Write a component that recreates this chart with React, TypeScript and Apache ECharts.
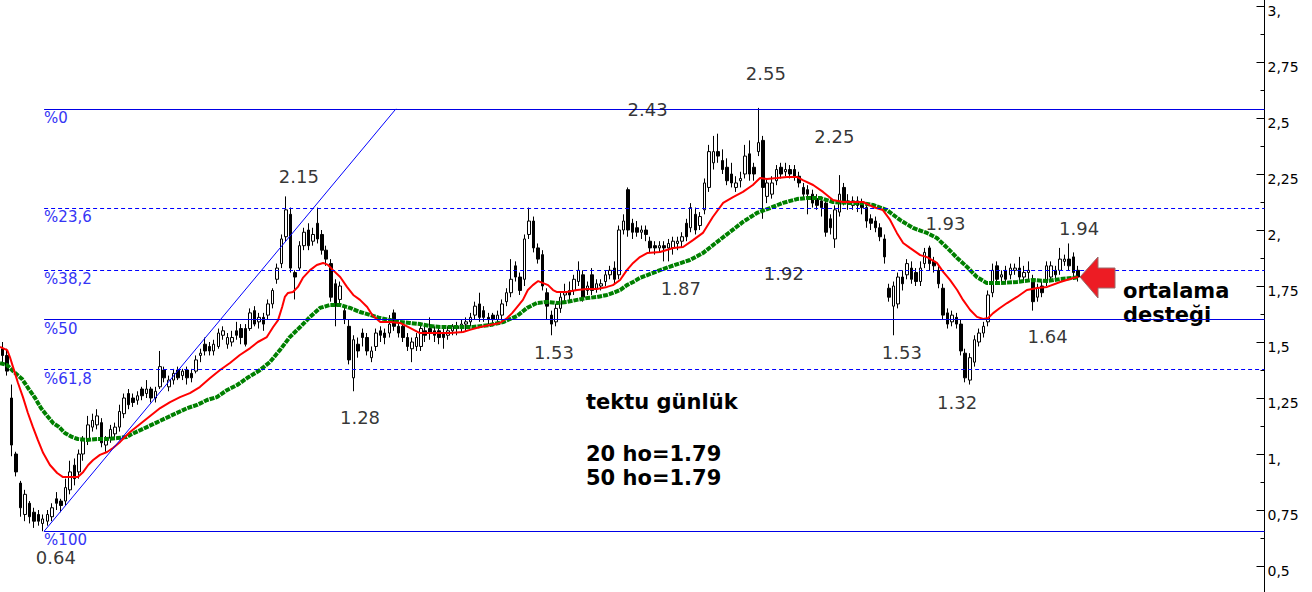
import React, { useEffect, useRef } from "react";
import * as echarts from "echarts";

// ---- data (open, close, low, high) per daily bar ----
const ohlc: number[][] = [
  [1.47,1.44,1.40,1.50],[1.44,1.37,1.35,1.47],[1.25,1.04,0.99,1.31],[1.00,0.92,0.90,1.01],[0.87,0.76,0.72,0.88],
  [0.73,0.82,0.70,0.84],[0.78,0.72,0.69,0.79],[0.74,0.70,0.67,0.76],[0.73,0.70,0.68,0.75],[0.69,0.71,0.655,0.73],
  [0.70,0.73,0.68,0.75],[0.72,0.76,0.70,0.78],[0.80,0.78,0.75,0.83],[0.79,0.77,0.74,0.80],[0.79,0.85,0.77,0.89],
  [0.84,0.92,0.82,0.97],[0.95,0.89,0.86,0.98],[0.92,1.00,0.89,1.02],[1.00,1.06,0.97,1.08],[1.06,1.13,1.04,1.17],
  [1.12,1.15,1.10,1.18],[1.13,1.17,1.11,1.20],[1.14,1.05,1.03,1.16],[1.04,1.06,1.01,1.08],[1.07,1.11,1.05,1.13],
  [1.09,1.12,1.07,1.14],[1.12,1.19,1.10,1.22],[1.18,1.25,1.16,1.27],[1.27,1.22,1.20,1.29],[1.25,1.23,1.21,1.27],
  [1.24,1.26,1.22,1.28],[1.29,1.26,1.24,1.30],[1.27,1.29,1.25,1.33],[1.29,1.25,1.23,1.30],[1.25,1.28,1.23,1.30],
  [1.30,1.39,1.29,1.46],[1.375,1.34,1.32,1.39],[1.30,1.33,1.28,1.35],[1.33,1.36,1.31,1.38],[1.375,1.34,1.33,1.39],
  [1.35,1.37,1.33,1.38],[1.375,1.34,1.31,1.39],[1.36,1.34,1.32,1.38],[1.37,1.42,1.36,1.44],[1.44,1.45,1.41,1.47],
  [1.49,1.46,1.44,1.52],[1.48,1.46,1.44,1.50],[1.46,1.49,1.44,1.51],[1.48,1.54,1.47,1.56],[1.53,1.55,1.51,1.57],
  [1.49,1.52,1.47,1.54],[1.50,1.52,1.48,1.55],[1.55,1.53,1.51,1.59],[1.56,1.52,1.49,1.58],[1.56,1.49,1.48,1.58],
  [1.56,1.63,1.55,1.65],[1.64,1.58,1.57,1.66],[1.59,1.61,1.56,1.63],[1.61,1.58,1.55,1.63],[1.62,1.67,1.60,1.69],
  [1.67,1.73,1.65,1.74],[1.78,1.83,1.76,1.85],[1.85,1.96,1.83,1.98],[1.97,2.09,1.95,2.15],[2.07,1.83,1.81,2.10],
  [1.81,1.79,1.69,1.82],[1.83,1.93,1.82,1.95],[1.93,1.99,1.91,2.01],[2.00,1.93,1.91,2.03],[1.95,1.98,1.93,2.01],
  [2.03,1.96,1.94,2.10],[1.98,1.91,1.89,2.00],[1.91,1.87,1.84,1.93],[1.85,1.70,1.68,1.87],[1.76,1.66,1.57,1.78],
  [1.69,1.75,1.66,1.77],[1.64,1.60,1.58,1.66],[1.57,1.42,1.40,1.60],[1.34,1.51,1.28,1.53],[1.49,1.46,1.43,1.52],
  [1.54,1.52,1.48,1.56],[1.52,1.46,1.44,1.54],[1.43,1.46,1.41,1.48],[1.48,1.54,1.46,1.56],[1.55,1.53,1.50,1.57],
  [1.54,1.52,1.49,1.56],[1.54,1.58,1.52,1.62],[1.63,1.57,1.55,1.645],[1.57,1.54,1.52,1.59],[1.57,1.52,1.50,1.58],
  [1.52,1.48,1.46,1.54],[1.47,1.50,1.41,1.52],[1.48,1.52,1.46,1.54],[1.48,1.56,1.46,1.58],[1.55,1.53,1.50,1.57],
  [1.56,1.54,1.51,1.61],[1.55,1.53,1.50,1.57],[1.55,1.52,1.49,1.57],[1.54,1.52,1.47,1.56],[1.53,1.55,1.51,1.57],
  [1.55,1.57,1.53,1.58],[1.57,1.56,1.53,1.59],[1.56,1.58,1.54,1.60],[1.58,1.59,1.55,1.61],[1.59,1.61,1.57,1.63],
  [1.62,1.66,1.60,1.68],[1.67,1.61,1.59,1.72],[1.64,1.61,1.59,1.66],[1.61,1.60,1.58,1.63],[1.62,1.60,1.57,1.63],
  [1.60,1.62,1.58,1.64],[1.62,1.67,1.60,1.69],[1.68,1.72,1.66,1.74],[1.72,1.78,1.70,1.87],[1.84,1.79,1.77,1.86],
  [1.79,1.73,1.71,1.81],[1.78,1.96,1.75,1.98],[1.98,2.04,1.96,2.10],[2.04,1.92,1.90,2.06],[1.92,1.87,1.85,1.94],
  [1.89,1.75,1.73,1.91],[1.72,1.66,1.60,1.74],[1.62,1.58,1.53,1.64],[1.59,1.65,1.57,1.67],[1.65,1.70,1.63,1.72],
  [1.71,1.72,1.68,1.76],[1.73,1.71,1.68,1.77],[1.73,1.78,1.71,1.80],[1.77,1.82,1.75,1.86],[1.80,1.70,1.68,1.82],
  [1.73,1.75,1.71,1.77],[1.80,1.73,1.71,1.83],[1.74,1.76,1.72,1.78],[1.75,1.76,1.73,1.78],[1.77,1.80,1.75,1.82],
  [1.80,1.82,1.78,1.84],[1.83,1.78,1.76,1.86],[1.80,2.00,1.78,2.02],[2.00,2.04,1.98,2.07],[2.18,2.00,1.97,2.19],
  [2.03,1.99,1.96,2.05],[2.01,1.99,1.97,2.04],[1.99,2.00,1.96,2.02],[2.00,1.98,1.95,2.02],[1.95,1.92,1.90,1.97],
  [1.93,1.92,1.89,1.95],[1.92,1.93,1.90,1.95],[1.93,1.92,1.86,1.95],[1.92,1.94,1.86,1.96],[1.92,1.95,1.89,1.97],
  [1.94,1.95,1.91,1.97],[1.95,1.97,1.92,1.99],[2.03,1.97,1.95,2.05],[2.01,2.10,1.99,2.12],[2.07,2.00,1.98,2.10],
  [2.02,2.06,2.00,2.08],[2.09,2.21,2.07,2.23],[2.19,2.35,2.17,2.38],[2.30,2.35,2.27,2.42],[2.35,2.33,2.30,2.43],
  [2.31,2.27,2.25,2.36],[2.28,2.22,2.20,2.32],[2.25,2.21,2.19,2.30],[2.19,2.21,2.17,2.24],[2.22,2.23,2.19,2.26],
  [2.25,2.33,2.23,2.38],[2.34,2.25,2.22,2.40],[2.28,2.25,2.22,2.30],[2.35,2.39,2.33,2.545],[2.40,2.19,2.05,2.42],
  [2.15,2.21,2.12,2.23],[2.16,2.21,2.14,2.24],[2.22,2.27,2.20,2.29],[2.28,2.25,2.23,2.30],[2.26,2.27,2.24,2.30],
  [2.27,2.25,2.23,2.29],[2.27,2.24,2.22,2.29],[2.24,2.21,2.19,2.26],[2.19,2.16,2.14,2.21],[2.18,2.16,2.07,2.20],
  [2.16,2.12,2.10,2.18],[2.14,2.11,2.09,2.16],[2.13,2.10,2.06,2.15],[2.12,1.99,1.97,2.14],[2.05,2.01,1.98,2.07],
  [1.96,2.09,1.92,2.11],[2.08,2.16,2.06,2.245],[2.19,2.13,2.11,2.21],[2.13,2.12,2.09,2.16],[2.11,2.13,2.09,2.15],
  [2.13,2.11,2.08,2.15],[2.12,2.10,2.07,2.14],[2.10,2.04,2.01,2.12],[2.05,2.03,2.00,2.07],[2.04,2.01,1.99,2.06],
  [2.01,1.97,1.95,2.03],[1.96,1.88,1.85,1.98],[1.74,1.70,1.68,1.76],[1.66,1.75,1.53,1.77],[1.67,1.79,1.65,1.81],
  [1.79,1.76,1.73,1.82],[1.80,1.85,1.78,1.87],[1.83,1.78,1.76,1.86],[1.81,1.77,1.75,1.83],[1.77,1.83,1.75,1.86],
  [1.85,1.90,1.83,1.92],[1.92,1.85,1.82,1.93],[1.86,1.84,1.81,1.88],[1.82,1.76,1.74,1.84],[1.74,1.62,1.60,1.76],
  [1.63,1.58,1.56,1.65],[1.59,1.62,1.57,1.64],[1.61,1.58,1.56,1.63],[1.58,1.46,1.44,1.60],[1.45,1.34,1.32,1.47],
  [1.33,1.43,1.31,1.45],[1.41,1.51,1.39,1.53],[1.50,1.54,1.48,1.56],[1.54,1.57,1.52,1.59],[1.59,1.71,1.57,1.73],
  [1.72,1.82,1.70,1.85],[1.84,1.78,1.76,1.86],[1.79,1.80,1.77,1.82],[1.82,1.78,1.76,1.84],[1.80,1.83,1.78,1.85],
  [1.82,1.83,1.80,1.85],[1.83,1.79,1.77,1.88],[1.79,1.81,1.77,1.84],[1.81,1.82,1.78,1.86],[1.78,1.68,1.64,1.80],
  [1.70,1.74,1.68,1.76],[1.75,1.72,1.70,1.77],[1.77,1.84,1.75,1.86],[1.79,1.84,1.77,1.86],[1.82,1.80,1.78,1.84],
  [1.82,1.87,1.80,1.92],[1.86,1.87,1.84,1.89],[1.87,1.84,1.82,1.94],[1.88,1.81,1.79,1.90],[1.82,1.79,1.77,1.84],
];

// 20-day average [bar index, value]
const ma20: number[][] = [
  [-0.5,1.478],[1.1,1.464],[1.7,1.433],[2.4,1.388],[3.5,1.317],[4.6,1.254],[5.7,1.183],[6.8,1.121],[7.9,1.063],
  [9.1,1.004],[10.6,0.951],[12.2,0.915],[13.5,0.897],[15.5,0.897],[16.8,0.897],[18.0,0.920],[19.1,0.951],[20.2,0.973],
  [21.7,0.996],[23.3,1.009],[24.6,1.027],[26.2,1.054],[27.7,1.085],[28.4,1.098],[35.1,1.205],[37.3,1.232],[39.5,1.254],
  [41.7,1.272],[43.9,1.299],[46.2,1.339],[48.4,1.375],[50.6,1.406],[52.8,1.442],[55.1,1.473],[56.8,1.500],[58.8,1.522],
  [60.2,1.567],[61.3,1.598],[62.2,1.656],[62.8,1.701],[63.5,1.719],[64.6,1.723],[65.7,1.746],[66.8,1.786],[68.4,1.821],
  [69.9,1.844],[71.3,1.853],[72.4,1.844],[73.5,1.821],[75.1,1.790],[76.6,1.746],[78.0,1.710],[79.5,1.688],[81.1,1.656],
  [82.2,1.621],[84.0,1.589],[86.2,1.589],[88.4,1.585],[90.6,1.563],[92.8,1.540],[95.1,1.540],[99.5,1.540],[102.4,1.545],
  [103.9,1.554],[106.2,1.567],[108.4,1.576],[110.6,1.585],[112.2,1.607],[113.3,1.629],[114.4,1.656],[115.7,1.688],
  [116.8,1.732],[117.9,1.754],[119.1,1.772],[120.2,1.763],[121.3,1.754],[122.4,1.732],[123.3,1.723],[125.5,1.723],
  [127.7,1.732],[129.9,1.737],[132.2,1.737],[134.4,1.746],[135.7,1.754],[137.3,1.777],[138.8,1.821],[140.2,1.853],
  [141.7,1.879],[143.3,1.897],[146.2,1.902],[149.1,1.920],[151.3,1.924],[153.5,1.955],[155.7,1.987],[157.9,2.058],
  [160.2,2.121],[162.4,2.147],[164.6,2.170],[166.8,2.201],[168.4,2.232],[169.9,2.228],[172.2,2.232],[174.4,2.237],
  [176.6,2.237],[177.9,2.223],[180.2,2.201],[182.4,2.170],[184.6,2.134],[186.8,2.125],[189.1,2.125],[191.3,2.125],
  [193.5,2.103],[195.7,2.089],[197.3,2.045],[198.8,1.987],[200.2,1.942],[201.7,1.920],[204.0,1.888],[205.5,1.879],
  [207.7,1.853],[209.1,1.813],[210.6,1.777],[212.2,1.732],[213.5,1.688],[215.1,1.643],[216.6,1.612],[218.0,1.603],
  [219.1,1.607],[220.2,1.629],[221.7,1.652],[223.3,1.674],[225.5,1.701],[227.7,1.732],[230.0,1.741],[232.2,1.746],
  [235.1,1.768],[238.0,1.786],[239.1,1.790],
];

// 50-day average [bar index, value]
const ma50: number[][] = [
  [-0.5,1.406],[1.1,1.397],[2.6,1.366],[4.4,1.335],[5.9,1.290],[7.3,1.250],[8.6,1.205],[10.2,1.165],[11.3,1.138],
  [12.6,1.121],[13.9,1.094],[15.5,1.076],[16.8,1.067],[18.8,1.063],[21.1,1.067],[23.3,1.067],[25.5,1.071],[27.7,1.076],
  [28.4,1.085],[41.1,1.205],[43.3,1.219],[45.5,1.241],[47.7,1.254],[50.0,1.286],[52.2,1.308],[54.4,1.339],[56.6,1.366],
  [57.3,1.375],[59.5,1.411],[61.7,1.464],[63.9,1.522],[66.2,1.567],[68.4,1.612],[70.6,1.652],[72.8,1.665],[75.1,1.665],
  [77.3,1.652],[79.5,1.634],[81.7,1.621],[83.9,1.607],[86.2,1.598],[88.4,1.589],[90.6,1.585],[92.8,1.580],[95.1,1.571],
  [97.3,1.567],[101.7,1.567],[104.6,1.567],[108.4,1.576],[111.3,1.589],[114.4,1.616],[116.6,1.652],[118.8,1.674],
  [121.1,1.679],[123.3,1.674],[125.5,1.679],[127.7,1.688],[129.9,1.696],[132.2,1.701],[134.4,1.710],[135.7,1.719],
  [137.3,1.732],[138.8,1.754],[140.2,1.768],[141.7,1.786],[146.2,1.821],[149.5,1.844],[152.8,1.866],[155.7,1.897],
  [158.8,1.946],[161.7,1.991],[164.6,2.036],[167.7,2.076],[170.6,2.098],[173.5,2.121],[176.6,2.138],[178.8,2.143],
  [181.7,2.143],[184.6,2.125],[187.7,2.121],[190.6,2.121],[193.5,2.112],[196.6,2.089],[199.5,2.045],[202.4,2.009],
  [205.5,1.987],[207.7,1.964],[210.0,1.920],[212.2,1.875],[214.4,1.835],[216.6,1.790],[218.8,1.763],[221.7,1.763],
  [225.5,1.768],[229.1,1.777],[232.2,1.772],[235.1,1.781],[238.0,1.786],[239.1,1.790],
];

// Fibonacci retracement (from the 0.655 low to the 2.545 high)
const fibLabels = ["%0", "%23,6", "%38,2", "%50", "%61,8", "%100"];
const fibValues = [2.541, 2.097, 1.822, 1.600, 1.377, 0.655];
const fibDashed = [false, true, true, false, true, false];
const fibStartIndex = 9.3;
const trendLine = [[9.3, 0.655], [87.5, 2.541]];

// price call-outs [text, bar index, value]
const priceNotes: [string, number, number][] = [
  ["2.15", 65.9, 2.241], ["2.43", 143.4, 2.540], ["2.55", 169.7, 2.699], ["2.25", 184.9, 2.417],
  ["1.93", 209.6, 2.029], ["1.94", 239.3, 2.007], ["1.92", 173.7, 1.808], ["1.87", 150.8, 1.737],
  ["1.53", 122.6, 1.451], ["1.28", 79.5, 1.165], ["1.53", 199.9, 1.453], ["1.32", 212.2, 1.232],
  ["1.64", 232.3, 1.525], ["0.64", 11.9, 0.540],
];

// y axis tick labels
const tickValues = [0.5, 0.75, 1, 1.25, 1.5, 1.75, 2, 2.25, 2.5, 2.75, 3];
const tickLabels = ["0,5", "0,75", "1,", "1,25", "1,5", "1,75", "2,", "2,25", "2,5", "2,75", "3,"];

const slotCount = 281;

const infoLines = ["tektu günlük", "20 ho=1.79", "50 ho=1.79"];
const supportLines = ["ortalama", "desteği"];

// the chart canvas starts 50px above the page so that the 3.25 / 0.25 ends fall outside it
const SHIFT = 50;

export default function App() {
  const ref = useRef<HTMLDivElement>(null);
  useEffect(() => {
    if (!ref.current) return;
    const chart = echarts.init(ref.current, undefined, { renderer: "svg" });
    const cats = Array.from({ length: slotCount }, (_, i) => String(i));
    const fibMarks = fibValues.map((v, k) => [
      {
        coord: [fibStartIndex, v],
        lineStyle: { color: fibDashed[k] ? "#0000ff" : "#0000e6", width: 1, type: fibDashed[k] ? [4, 3] : "solid" },
        label: {
          show: true,
          formatter: fibLabels[k],
          position: "insideStartBottom",
          distance: [0, 3],
          color: "#3535f5",
          fontSize: 15,
          lineHeight: 12,
          fontFamily: "DejaVu Sans",
        },
      },
      { coord: [slotCount - 0.5, v] },
    ]);
    const trendMark = [
      { coord: trendLine[0], lineStyle: { color: "#0000ff", width: 1, type: "solid" }, label: { show: false } },
      { coord: trendLine[1] },
    ];
    const bold = 'bold 21px "DejaVu Sans"';
    const txt = (s: string, x: number, y: number) => ({
      type: "text",
      x,
      y: y + SHIFT,
      style: { text: s, font: bold, fill: "#000", verticalAlign: "middle" },
    });
    const arrow = [[1080, 277], [1098, 257], [1098, 268], [1115, 268], [1115, 288], [1098, 288], [1098, 298]].map(
      (p) => [p[0], p[1] + SHIFT]
    );
    const option: any = {
      animation: false,
      backgroundColor: "#fff",
      grid: { left: 0, top: 0, width: 1264.5, height: 672, containLabel: false },
      xAxis: [
        { type: "category", data: cats, show: false, boundaryGap: true },
        { type: "value", min: -0.5, max: slotCount - 0.5, show: false },
      ],
      yAxis: {
        type: "value",
        position: "right",
        min: 0.25,
        max: 3.25,
        interval: 0.25,
        splitLine: { show: false },
        axisLine: { show: true, onZero: false, lineStyle: { color: "#000", width: 1 } },
        axisTick: { show: true, inside: true, length: 8, lineStyle: { color: "#000" } },
        minorTick: { show: true, splitNumber: 2, length: 4, lineStyle: { color: "#000" } },
        axisLabel: {
          margin: 3,
          color: "#000",
          fontSize: 14,
          lineHeight: 10,
          verticalAlign: "top",
          fontFamily: "DejaVu Sans",
          formatter: (v: number) => {
            const k = tickValues.findIndex((t) => Math.abs(t - v) < 1e-6);
            return k >= 0 ? tickLabels[k] : "";
          },
        },
      },
      series: [
        {
          type: "candlestick",
          xAxisIndex: 0,
          data: ohlc,
          barWidth: 3,
          z: 2,
          itemStyle: { color: "#fff", color0: "#000", borderColor: "#000", borderColor0: "#000", borderWidth: 1 },
        },
        {
          type: "line",
          name: "fib",
          xAxisIndex: 1,
          data: [],
          z: 1,
          markLine: {
            silent: true,
            symbol: ["none", "none"],
            animation: false,
            data: [...fibMarks, trendMark],
          },
        },
        {
          type: "line",
          name: "ma50",
          xAxisIndex: 1,
          data: ma50,
          showSymbol: false,
          z: 3,
          lineStyle: { color: "#008000", width: 4, type: [5, 1], cap: "butt" },
        },
        {
          type: "line",
          name: "ma20",
          xAxisIndex: 1,
          data: ma20,
          showSymbol: false,
          z: 4,
          lineStyle: { color: "#ff0000", width: 2 },
        },
        {
          type: "scatter",
          xAxisIndex: 1,
          symbolSize: 0,
          z: 5,
          data: priceNotes.map((n) => ({ name: n[0], value: [n[1], n[2]] })),
          label: {
            show: true,
            position: "inside",
            formatter: "{b}",
            color: "#000",
            fontSize: 18,
            lineHeight: 14,
            fontFamily: "DejaVu Sans",
          },
        },
      ],
      graphic: [
        txt(infoLines[0], 586, 401.7),
        txt(infoLines[1], 586, 453.7),
        txt(infoLines[2], 586, 477.7),
        txt(supportLines[0], 1123, 290.7),
        txt(supportLines[1], 1123, 314.7),
        {
          type: "polygon",
          shape: { points: arrow },
          style: { fill: "#ed1c24", stroke: "#9a6a6a", lineWidth: 1 },
          z: 10,
        },
      ],
    };
    chart.setOption(option);
    return () => chart.dispose();
  }, []);
  return (
    <div
      ref={ref}
      style={{ position: "fixed", left: 0, top: -SHIFT, width: 1312, height: 672 + 2 * SHIFT - 30, background: "#fff" }}
    />
  );
}
